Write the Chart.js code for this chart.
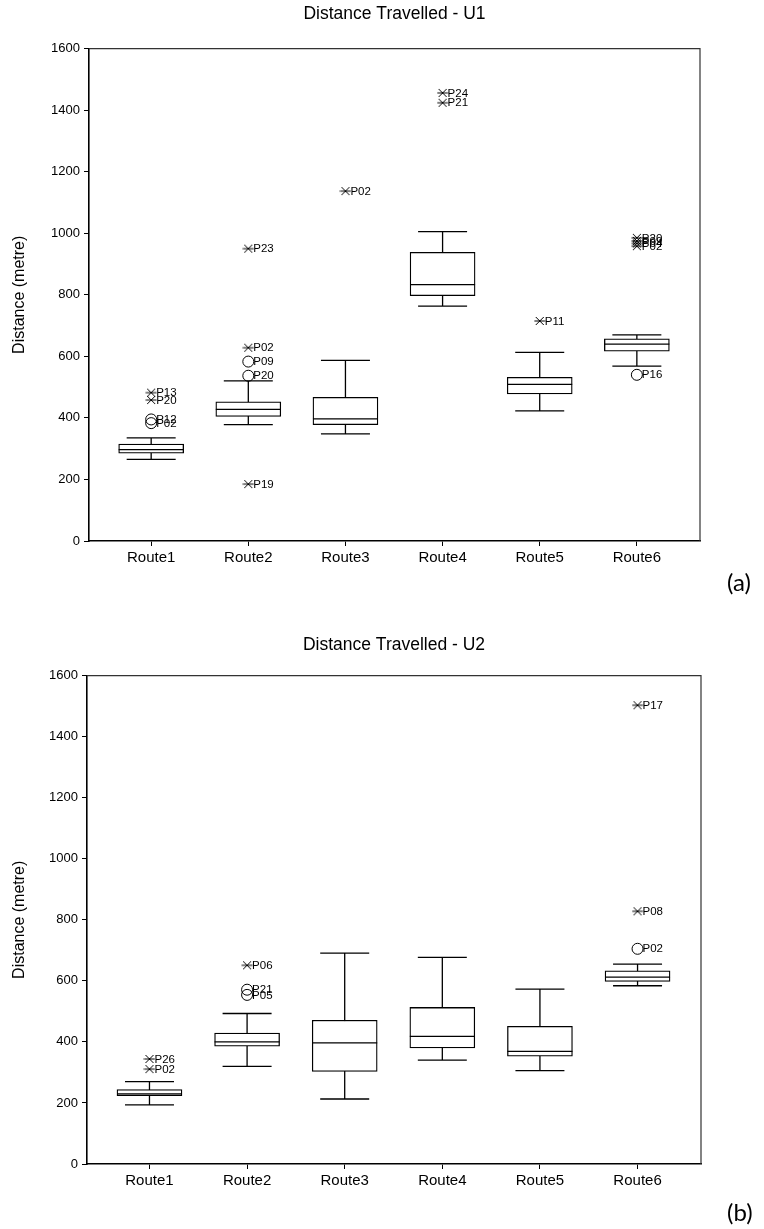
<!DOCTYPE html>
<html>
<head>
<meta charset="utf-8">
<script src="https://cdn.jsdelivr.net/npm/chart.js@4"></script>
<style>
  body { margin: 0; background: #fff; width: 764px; height: 1229px; position: relative; overflow: hidden; }
  .panel { position: absolute; left: 0; }
  .tag { position: absolute; left: 727px; font-family: Lato, "Open Sans", sans-serif; font-size: 24px; line-height: 28px; color: #000; }
</style>
</head>
<body>
<canvas id="u1" class="panel" style="top:0" width="764" height="575"></canvas>
<canvas id="u2" class="panel" style="top:630px" width="764" height="570"></canvas>
<div class="tag" style="top:568px">(a)</div>
<div class="tag" style="top:1198px">(b)</div>
<script>
// Route categories shared by both panels
const routes = ['Route1', 'Route2', 'Route3', 'Route4', 'Route5', 'Route6'];
const yTicks = [0, 200, 400, 600, 800, 1000, 1200, 1400, 1600];

// U1: five-number summaries per route (metres)
const u1Low    = [265, 378, 348, 763, 423, 568];
const u1Q1     = [285, 405, 378, 797, 478, 617];
const u1Median = [297, 428, 397, 833, 509, 640];
const u1Q3     = [315, 452, 467, 938, 532, 657];
const u1High   = [335, 520, 587, 1005, 613, 670];
// U1: extreme cases (asterisks) and outliers (circles)
const u1Extremes = [
  { route: 1, value: 482, id: 'P13' }, { route: 1, value: 458, id: 'P20' },
  { route: 2, value: 950, id: 'P23' }, { route: 2, value: 628, id: 'P02' }, { route: 2, value: 185, id: 'P19' },
  { route: 3, value: 1137, id: 'P02' },
  { route: 4, value: 1456, id: 'P24' }, { route: 4, value: 1424, id: 'P21' },
  { route: 5, value: 715, id: 'P11' },
  { route: 6, value: 985, id: 'P20' }, { route: 6, value: 975, id: 'P09' },
  { route: 6, value: 967, id: 'P04' }, { route: 6, value: 958, id: 'P02' }
];
const u1Outliers = [
  { route: 1, value: 395, id: 'P12' }, { route: 1, value: 383, id: 'P02' },
  { route: 2, value: 583, id: 'P09' }, { route: 2, value: 537, id: 'P20' },
  { route: 6, value: 540, id: 'P16' }
];

// U2: five-number summaries per route (metres)
const u2Low    = [194, 320, 213, 340, 306, 584];
const u2Q1     = [224, 386, 303, 380, 353, 598];
const u2Median = [230, 400, 397, 418, 369, 612];
const u2Q3     = [244, 429, 471, 513, 451, 633];
const u2High   = [270, 493, 691, 677, 573, 655];
const u2Extremes = [
  { route: 1, value: 344, id: 'P26' }, { route: 1, value: 311, id: 'P02' },
  { route: 2, value: 651, id: 'P06' },
  { route: 6, value: 1503, id: 'P17' }, { route: 6, value: 828, id: 'P08' }
];
const u2Outliers = [
  { route: 2, value: 571, id: 'P21' }, { route: 2, value: 554, id: 'P05' },
  { route: 6, value: 705, id: 'P02' }
];

const FONT = 'Liberation Sans, Arial, sans-serif';

// Asterisk marker: a horizontal stroke crossed by two diagonals
function asteriskMarker() {
  const c = document.createElement('canvas');
  c.width = 12; c.height = 10;
  const g = c.getContext('2d');
  g.strokeStyle = '#000';
  g.lineWidth = 1;
  g.beginPath();
  g.moveTo(0.5, 5); g.lineTo(11.5, 5);
  g.moveTo(2, 1); g.lineTo(10, 9);
  g.moveTo(10, 1); g.lineTo(2, 9);
  g.stroke();
  return c;
}
const asterisk = asteriskMarker();

// Whiskers, medians, case labels and the plot frame
const boxPlotPlugin = {
  id: 'boxPlotParts',
  beforeDatasetsDraw(chart) {
    const s = chart.options.plugins.boxPlotParts;
    const x = chart.scales.x, y = chart.scales.y, ctx = chart.ctx;
    ctx.save();
    ctx.strokeStyle = '#000';
    ctx.lineWidth = 1.3;
    s.low.forEach((lo, i) => {
      const cx = x.getPixelForValue(i + 1);
      const yl = y.getPixelForValue(lo), yh = y.getPixelForValue(s.high[i]);
      ctx.beginPath();
      ctx.moveTo(cx, yl); ctx.lineTo(cx, yh);
      ctx.moveTo(cx - 24.5, yl); ctx.lineTo(cx + 24.5, yl);
      ctx.moveTo(cx - 24.5, yh); ctx.lineTo(cx + 24.5, yh);
      ctx.stroke();
    });
    ctx.restore();
  },
  afterDatasetsDraw(chart) {
    const s = chart.options.plugins.boxPlotParts;
    const x = chart.scales.x, y = chart.scales.y, ctx = chart.ctx;
    const a = chart.chartArea;
    ctx.save();
    ctx.strokeStyle = '#000';
    ctx.lineWidth = 1.3;
    s.median.forEach((m, i) => {
      const cx = x.getPixelForValue(i + 1);
      const ym = y.getPixelForValue(m);
      ctx.beginPath();
      ctx.moveTo(cx - 32.5, ym); ctx.lineTo(cx + 32.5, ym);
      ctx.stroke();
    });
    // case labels beside each marked point
    ctx.fillStyle = '#000';
    ctx.font = '11.5px ' + FONT;
    ctx.textBaseline = 'middle';
    ctx.textAlign = 'left';
    s.cases.forEach(c => {
      ctx.fillText(c.id, x.getPixelForValue(c.route) + 5, y.getPixelForValue(c.value) + 0.5);
    });
    // top and right edges of the frame
    ctx.strokeStyle = '#333';
    ctx.lineWidth = 1.2;
    ctx.beginPath();
    ctx.moveTo(a.left, a.top); ctx.lineTo(a.right, a.top); ctx.lineTo(a.right, a.bottom);
    ctx.stroke();
    ctx.restore();
  }
};

function makeChart(id, title, low, q1, median, q3, high, extremes, outliers, layout) {
  new Chart(document.getElementById(id), {
    type: 'scatter',
    plugins: [boxPlotPlugin],
    data: {
      datasets: [
        {
          type: 'bar',
          data: routes.map((r, i) => ({ x: i + 1, y: [q1[i], q3[i]] })),
          backgroundColor: '#fff',
          borderColor: '#000',
          borderWidth: 1.3,
          borderSkipped: false,
          barThickness: 65,
          order: 2
        },
        {
          data: extremes.map(e => ({ x: e.route, y: e.value })),
          pointStyle: asterisk,
          pointRadius: 5,
          order: 1
        },
        {
          data: outliers.map(e => ({ x: e.route, y: e.value })),
          pointStyle: 'circle',
          pointRadius: 5.5,
          borderColor: '#000',
          borderWidth: 1,
          backgroundColor: 'rgba(0,0,0,0)',
          order: 1
        }
      ]
    },
    options: {
      responsive: false,
      animation: false,
      layout: { padding: { left: 0, right: layout.right, top: 0, bottom: 0 } },
      plugins: {
        legend: { display: false },
        tooltip: { enabled: false },
        title: {
          display: true,
          fullSize: false,
          text: title,
          color: '#000',
          font: { family: FONT, size: 17.5, weight: 'normal' },
          padding: { top: layout.titleTop, bottom: layout.titleBottom }
        },
        boxPlotParts: { low, median, high, cases: extremes.concat(outliers) }
      },
      scales: {
        x: {
          type: 'linear',
          offset: false,
          min: 0.36,
          max: 6.65,
          afterBuildTicks: s => { s.ticks = routes.map((r, i) => ({ value: i + 1 })); },
          afterFit: s => { s.height = layout.xHeight; },
          ticks: {
            autoSkip: false,
            maxRotation: 0,
            color: '#000',
            padding: 3,
            font: { family: FONT, size: 15 },
            callback: v => routes[Math.round(v) - 1]
          },
          grid: { offset: false, drawOnChartArea: false, drawTicks: true, tickLength: 5, color: '#000', lineWidth: 1 },
          border: { display: true, color: '#000', width: 1.6 }
        },
        y: {
          min: 0,
          max: 1600,
          afterBuildTicks: s => { s.ticks = yTicks.map(v => ({ value: v })); },
          afterFit: s => { s.width = layout.left; },
          ticks: {
            color: '#000',
            padding: 4,
            font: { family: FONT, size: 13 },
            callback: v => String(v)
          },
          grid: { drawOnChartArea: false, drawTicks: true, tickLength: 5, color: '#000', lineWidth: 1 },
          border: { display: true, color: '#000', width: 1.6 },
          title: {
            display: true,
            text: 'Distance (metre)',
            color: '#000',
            font: { family: FONT, size: 16 },
            padding: { top: 10, bottom: 0 }
          }
        }
      }
    }
  });
}

makeChart('u1', 'Distance Travelled - U1', u1Low, u1Q1, u1Median, u1Q3, u1High, u1Extremes, u1Outliers,
  { left: 89, right: 64, titleTop: 4, titleBottom: 23.6, xHeight: 34 });
makeChart('u2', 'Distance Travelled - U2', u2Low, u2Q1, u2Median, u2Q3, u2High, u2Extremes, u2Outliers,
  { left: 87, right: 63, titleTop: 5, titleBottom: 19.6, xHeight: 36 });
</script>
</body>
</html>
